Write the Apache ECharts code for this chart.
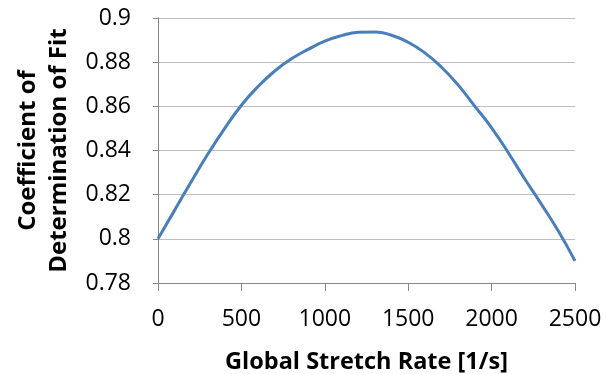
<!DOCTYPE html>
<html><head><meta charset="utf-8">
<script src="https://cdn.jsdelivr.net/npm/echarts@6/dist/echarts.min.js"></script>
<style>html,body{margin:0;padding:0;background:#fff}#c{width:607px;height:374px}</style>
</head><body><div id="c"></div>
<script>
const rates = [0,100,200,300,400,500,600,700,800,900,1000,1100,1200,1300,1400,1500,1600,1700,1800,1900,2000,2100,2200,2300,2400,2500];
const r2 = [0.800,0.813,0.826,0.8385,0.850,0.8605,0.869,0.876,0.8815,0.8858,0.8895,0.8920,0.8935,0.8937,0.8922,0.889,0.8842,0.8777,0.8696,0.860,0.8503,0.839,0.827,0.8155,0.8035,0.790];
const xTitle = 'Global Stretch Rate [1/s]';
const yTitle = 'Coefficient of\nDetermination of Fit';

const chart = echarts.init(document.getElementById('c'), null, {renderer:'canvas'});
chart.setOption({
  animation:false,
  backgroundColor:'#fff',
  grid:{left:158, right:32, top:18, bottom:91, containLabel:false, outerBoundsMode:'none'},
  xAxis:{
    type:'value', min:0, max:2500, interval:500,
    name:xTitle, nameLocation:'middle', nameGap:67,
    nameTextStyle:{fontFamily:'Open Sans', fontWeight:'bold', fontSize:23.5, color:'#000'},
    axisLine:{show:true, lineStyle:{color:'#868686', width:1}},
    axisTick:{show:true, length:8, lineStyle:{color:'#868686'}},
    axisLabel:{fontFamily:'Open Sans', fontSize:23, color:'#000', margin:25,
      formatter:v=>String(v)},
    splitLine:{show:false}
  },
  yAxis:{
    type:'value', min:0.78, max:0.9, interval:0.02,
    name:yTitle, nameLocation:'middle', nameGap:80,
    nameTextStyle:{fontFamily:'Open Sans', fontWeight:'bold', fontSize:24, color:'#000', lineHeight:31},
    axisLine:{show:true, lineStyle:{color:'#868686', width:1}},
    axisTick:{show:true, length:5, lineStyle:{color:'#868686'}},
    axisLabel:{fontFamily:'Open Sans', fontSize:23, color:'#000', margin:27,
      formatter:v=>String(parseFloat(v.toFixed(2)))},
    splitLine:{show:true, lineStyle:{color:'#BFBFBF', width:1}}
  },
  series:[{
    type:'line', smooth:true, showSymbol:false,
    data: rates.map((x,i)=>[x, r2[i]]),
    lineStyle:{color:'#4A7EBB', width:3}
  }]
});
</script></body></html>
